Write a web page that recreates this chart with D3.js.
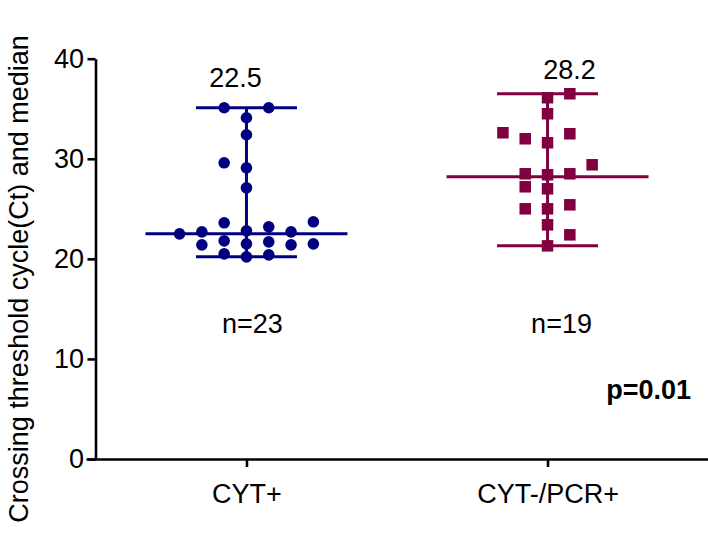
<!DOCTYPE html>
<html><head><meta charset="utf-8">
<script src="https://cdn.jsdelivr.net/npm/d3@7"></script>
<style>
body{margin:0;background:#fff}
text{font-family:"Liberation Sans",Arial,sans-serif}
</style>
</head><body>
<svg id="chart" width="708" height="539"></svg>
<script>
// ---- data ----
const categories = ["CYT+", "CYT-/PCR+"];
const cytPositive = [35.1, 35.1, 34.1, 32.4, 29.6, 29.1, 27.1, 23.6, 23.7, 22.8, 22.7, 22.5, 22.7, 23.2,
                     21.8, 21.5, 21.4, 21.4, 21.5, 21.7, 20.5, 20.2, 20.4];
const cytNegPcrPositive = [36.5, 36.1, 34.5, 32.6, 32.5, 32.0, 31.6, 29.4, 28.4, 28.5, 28.5, 27.0, 27.2,
                           25.0, 25.0, 25.4, 23.4, 22.4, 21.3];
const medians = [22.5, 28.2];            // medians as annotated on the chart
const yTicks = [0, 10, 20, 30, 40];
const yTitle = "Crossing threshold cycle(Ct) and median";
const pValueLabel = "p=0.01";

const series = [cytPositive, cytNegPcrPositive];
const colors = ["#000080", "#800040"];
const shapes = ["circle", "square"];

// ---- layout ----
const svg = d3.select("#chart");
const FONT = 27;
const y = d3.scaleLinear().domain([0, 40]).range([459, 58.7]);
const x = d3.scalePoint().domain(categories).range([86, 708]).padding(0.533);
const yAxisX = 95.5;

// y axis
const gy = svg.append("g").attr("transform", `translate(${yAxisX},0)`)
  .call(d3.axisLeft(y).tickValues(yTicks).tickSize(8).tickSizeOuter(0).tickPadding(3.5));
gy.select(".domain").attr("stroke", "#000").attr("stroke-width", 2.6);
gy.selectAll(".tick line").attr("stroke", "#000").attr("stroke-width", 2.6);
gy.selectAll(".tick text").attr("font-size", FONT).attr("fill", "#000")
  .attr("font-family", '"Liberation Sans",Arial,sans-serif');

// x axis
const gx = svg.append("g").attr("transform", `translate(0,${y(0)})`)
  .call(d3.axisBottom(x).tickSize(8).tickSizeOuter(0).tickPadding(16.8));
gx.select(".domain").attr("stroke", "#000").attr("stroke-width", 2.6);
gx.selectAll(".tick line").attr("stroke", "#000").attr("stroke-width", 2.6);
gx.selectAll(".tick text").attr("font-size", FONT).attr("fill", "#000")
  .attr("font-family", '"Liberation Sans",Arial,sans-serif');

// y title
svg.append("text")
  .attr("transform", "translate(28,279) rotate(-90)")
  .attr("text-anchor", "middle")
  .attr("font-size", FONT)
  .attr("fill", "#000")
  .text(yTitle);

// scatter layout: greedy placement in ascending order, rectangular collision box
function swarm(values, cx) {
  const Sx = 22.3, Sy = 12.5, step = Sx / 2;
  const order = d3.range(values.length).sort((a, b) => values[a] - values[b]);
  const placed = [];
  const out = new Array(values.length);
  let balance = 0;
  for (const i of order) {
    const py = y(values[i]);
    let off = null;
    for (let k = 0; off === null && k < 40; k++) {
      const cands = k === 0 ? [0] : (balance > 0 ? [-k * step, k * step] : [k * step, -k * step]);
      for (const c of cands) {
        const ok = placed.every(p => Math.abs(p.off - c) >= Sx - 0.01 || Math.abs(p.y - py) >= Sy);
        if (ok) { off = c; break; }
      }
    }
    balance += Math.sign(off);
    placed.push({off, y: py});
    out[i] = {v: values[i], x: cx + off, y: py};
  }
  return out;
}

const medianHalf = 101, whiskerHalf = 50.5;
const medianLabelPos = [{dx: -11, y: 87}, {dx: 22, y: 78.5}];

series.forEach((vals, si) => {
  const cx = x(categories[si]);
  const col = colors[si];
  const med = medians[si];
  const [mn, mx] = d3.extent(vals);
  const g = svg.append("g");
  g.append("line").attr("x1", cx).attr("x2", cx).attr("y1", y(mn)).attr("y2", y(mx))
    .attr("stroke", col).attr("stroke-width", 3);
  [mn, mx].forEach(v => g.append("line").attr("x1", cx - whiskerHalf).attr("x2", cx + whiskerHalf)
    .attr("y1", y(v)).attr("y2", y(v)).attr("stroke", col).attr("stroke-width", 3));
  g.append("line").attr("x1", cx - medianHalf).attr("x2", cx + medianHalf)
    .attr("y1", y(med)).attr("y2", y(med)).attr("stroke", col).attr("stroke-width", 3);

  const pts = swarm(vals, cx);
  if (shapes[si] === "circle") {
    g.selectAll("circle.pt").data(pts).enter().append("circle").attr("class", "pt")
      .attr("cx", d => d.x).attr("cy", d => d.y).attr("r", 5.8).attr("fill", col);
  } else {
    const s = 11.5;
    g.selectAll("rect.pt").data(pts).enter().append("rect").attr("class", "pt")
      .attr("x", d => d.x - s / 2).attr("y", d => d.y - s / 2).attr("width", s).attr("height", s)
      .attr("fill", col);
  }
  svg.append("text").attr("x", cx + medianLabelPos[si].dx).attr("y", medianLabelPos[si].y)
    .attr("text-anchor", "middle").attr("font-size", FONT).attr("fill", "#000")
    .text(d3.format(".1f")(med));
  svg.append("text").attr("x", cx + (si === 0 ? 6 : 14)).attr("y", 333)
    .attr("text-anchor", "middle").attr("font-size", FONT).attr("fill", "#000")
    .text("n=" + vals.length);
});

svg.append("text").attr("x", 691).attr("y", 399).attr("text-anchor", "end")
  .attr("font-size", FONT).attr("font-weight", "bold").attr("fill", "#000").text(pValueLabel);
</script>
</body></html>
